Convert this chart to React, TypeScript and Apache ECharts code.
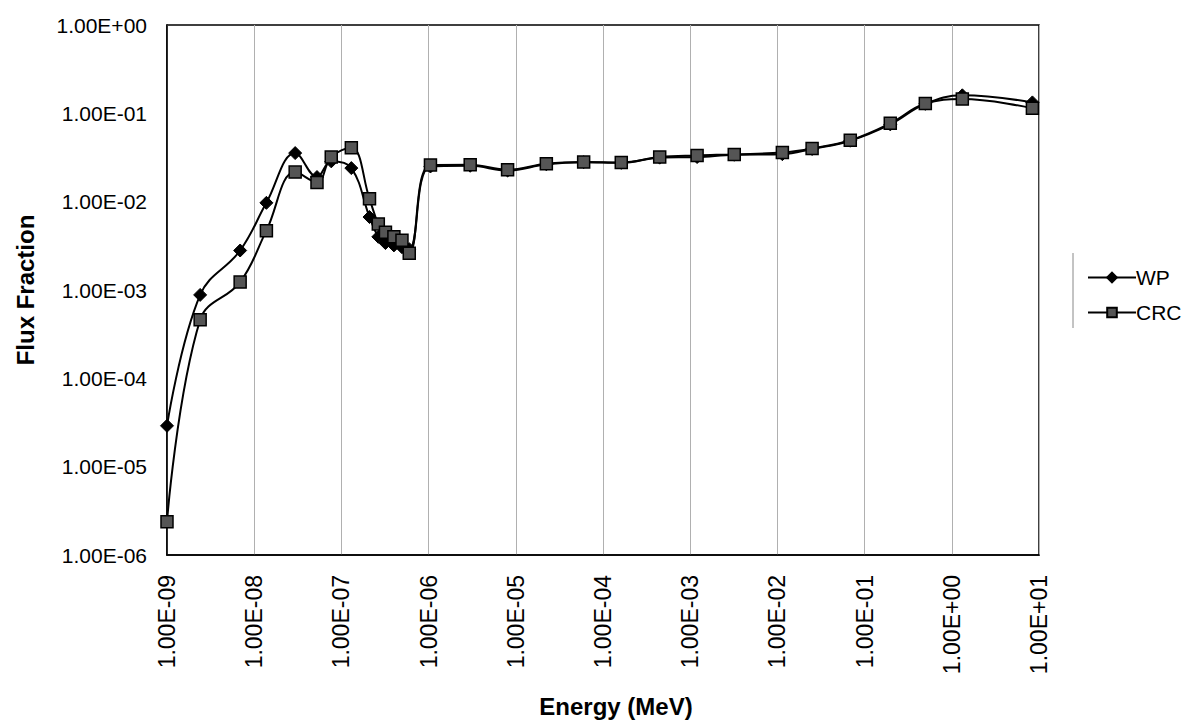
import React, { useEffect, useRef } from "react";
import * as echarts from "echarts";

const energy = [1e-9, 2.4e-9, 6.9e-9, 1.38e-8, 2.95e-8, 5.25e-8, 7.65e-8, 1.3e-7, 2.1e-7, 2.65e-7, 3.2e-7, 4.0e-7, 4.95e-7, 6.0e-7, 1.05e-6, 3.0e-6, 8.05e-6, 2.24e-5, 6.0e-5, 1.62e-4, 4.47e-4, 1.2e-3, 3.2e-3, 1.14e-2, 2.5e-2, 6.85e-2, 0.197, 0.497, 1.32, 8.4];

const wp = [2.9e-5, 8.8e-4, 2.8e-3, 9.7e-3, 3.55e-2, 1.9e-2, 2.86e-2, 2.4e-2, 6.7e-3, 4.0e-3, 3.4e-3, 3.2e-3, 3.05e-3, 2.9e-3, 2.5e-2, 2.55e-2, 2.25e-2, 2.65e-2, 2.8e-2, 2.75e-2, 3.15e-2, 3.2e-2, 3.4e-2, 3.45e-2, 3.95e-2, 4.9e-2, 7.5e-2, 0.128, 0.16, 0.133];

const crc = [2.38e-6, 4.6e-4, 1.23e-3, 4.7e-3, 2.16e-2, 1.65e-2, 3.2e-2, 4.07e-2, 1.08e-2, 5.6e-3, 4.5e-3, 4.0e-3, 3.65e-3, 2.6e-3, 2.6e-2, 2.62e-2, 2.3e-2, 2.69e-2, 2.81e-2, 2.78e-2, 3.2e-2, 3.34e-2, 3.43e-2, 3.6e-2, 4.0e-2, 4.95e-2, 7.7e-2, 0.129, 0.145, 0.114];

const seriesNames = ["WP", "CRC"];
const xTitle = "Energy (MeV)";
const yTitle = "Flux Fraction";

const fmt = (v: number) => {
  const e = Math.round(Math.log10(v));
  return "1.00E" + (e < 0 ? "-" : "+") + String(Math.abs(e)).padStart(2, "0");
};

export default function App() {
  const ref = useRef<HTMLDivElement>(null);
  useEffect(() => {
    document.body.style.margin = "0";
    const chart = echarts.init(ref.current!, null, { renderer: "svg" });
    const font = "'Liberation Sans', Arial, sans-serif";
    chart.setOption({
      animation: false,
      backgroundColor: "#fff",
      textStyle: { fontFamily: font },
      grid: {
        left: 167,
        top: 25,
        width: 872,
        height: 530,
        show: true,
        borderColor: "#000",
        borderWidth: 1.5,
        backgroundColor: "transparent",
      },
      legend: {
        orient: "vertical",
        left: 1082,
        top: 262,
        itemWidth: 48,
        itemHeight: 12,
        itemGap: 14,
        data: seriesNames,
        textStyle: { fontSize: 21, color: "#000", fontFamily: font, padding: [0, 0, 0, -5] },
      },
      xAxis: {
        type: "log",
        logBase: 10,
        min: 1e-9,
        max: 10,
        splitNumber: 10,
        axisLine: { show: true, lineStyle: { color: "#000", width: 1.5 } },
        axisTick: { show: false },
        minorTick: { show: false },
        splitLine: { show: true, lineStyle: { color: "#b0b0b0", width: 1 } },
        axisLabel: {
          rotate: 90,
          margin: 20,
          fontSize: 23,
          color: "#000",
          fontFamily: font,
          formatter: fmt,
        },
      },
      yAxis: {
        type: "log",
        logBase: 10,
        min: 1e-6,
        max: 1,
        splitNumber: 6,
        axisLine: { show: true, lineStyle: { color: "#000", width: 1.5 } },
        axisTick: { show: false },
        splitLine: { show: false },
        axisLabel: {
          margin: 20,
          fontSize: 21,
          color: "#000",
          fontFamily: font,
          formatter: fmt,
        },
      },
      graphic: [
        {
          type: "text",
          x: 25,
          y: 290,
          rotation: Math.PI / 2,
          style: {
            text: yTitle,
            fontSize: 24,
            fontWeight: "bold",
            fontFamily: font,
            fill: "#000",
            align: "center",
            verticalAlign: "middle",
          },
        },
        {
          type: "text",
          x: 616,
          y: 706,
          style: {
            text: xTitle,
            fontSize: 24,
            fontWeight: "bold",
            fontFamily: font,
            fill: "#000",
            align: "center",
            verticalAlign: "middle",
          },
        },
        {
          type: "line",
          shape: { x1: 1073, y1: 253, x2: 1073, y2: 328 },
          style: { stroke: "#888", lineWidth: 1 },
        },
      ],
      series: [
        {
          name: seriesNames[0],
          type: "line",
          smooth: 0.4,
          data: energy.map((e, i) => [e, wp[i]]),
          symbol: "diamond",
          symbolSize: 13,
          lineStyle: { color: "#000", width: 2 },
          itemStyle: { color: "#000", borderColor: "#000", borderWidth: 1 },
          z: 2,
        },
        {
          name: seriesNames[1],
          type: "line",
          smooth: 0.4,
          data: energy.map((e, i) => [e, crc[i]]),
          symbol: "rect",
          symbolSize: 12,
          lineStyle: { color: "#000", width: 2 },
          itemStyle: { color: "#555", borderColor: "#000", borderWidth: 1.5 },
          z: 3,
        },
      ],
    });
    return () => chart.dispose();
  }, []);
  return <div ref={ref} style={{ width: 1193, height: 723 }} />;
}
